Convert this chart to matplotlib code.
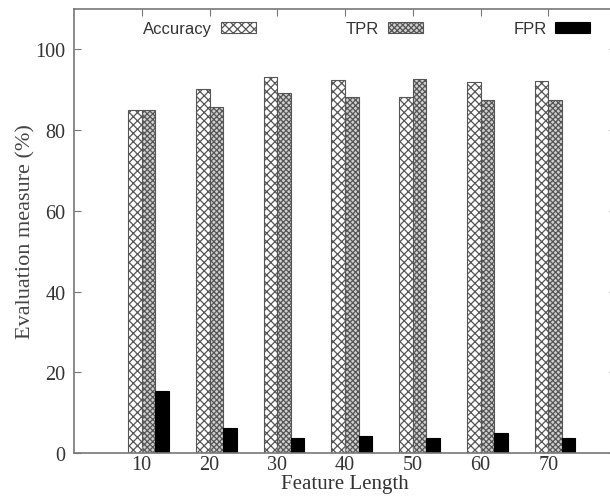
import numpy as np
import matplotlib
matplotlib.use("Agg")
import matplotlib.pyplot as plt

# values
feature_length = [10, 20, 30, 40, 50, 60, 70]
accuracy = [85.1, 90.1, 93.2, 92.5, 88.2, 91.8, 92.2]
tpr = [85.1, 85.6, 89.1, 88.2, 92.6, 87.5, 87.5]
fpr = [15.4, 6.2, 3.7, 4.1, 3.7, 4.9, 3.7]

plt.rcParams['hatch.linewidth'] = 0.9

fig = plt.figure(figsize=(6.1, 5.02), dpi=100)
ax = fig.add_axes([74 / 610, 48 / 502, 542 / 610, 444 / 502])

x = np.array(feature_length, dtype=float)
w = 2.0
ax.bar(x - w / 2, accuracy, w, color='white', edgecolor='#555555', hatch='xxxx',
       linewidth=0.8, label='Accuracy')
ax.bar(x + w / 2, tpr, w, color='#d0d0d0', edgecolor='#555555', hatch='xxxxxx',
       linewidth=0.8, label='TPR')
ax.bar(x + 3 * w / 2, fpr, w, color='black', edgecolor='black', linewidth=0.8,
       label='FPR')

ax.set_xlim(0, 80)
ax.set_ylim(0, 110)
ax.set_xticks(feature_length)
ax.set_yticks([0, 20, 40, 60, 80, 100])
ax.tick_params(direction='in', top=True, right=True, length=5, width=0.8,
               colors='#777777', labelcolor='#333333', labelsize=14.5)
ax.tick_params(axis='x', pad=1.5)
ax.tick_params(axis='y', pad=6)
for lab in ax.get_xticklabels() + ax.get_yticklabels():
    lab.set_family('Liberation Serif')
for sp in ax.spines.values():
    sp.set_color('#777777')
    sp.set_linewidth(1.2)

ax.set_xlabel('Feature Length', family='Liberation Serif', fontsize=15,
              color='#333333', labelpad=0)
ax.set_ylabel('Evaluation measure (%)', family='Liberation Serif', fontsize=16,
              color='#444444', labelpad=0)

ax.legend(loc='center left', bbox_to_anchor=(0.0996, 0.955), ncol=3, frameon=False,
          markerfirst=False, prop={'family': 'Liberation Sans', 'size': 12},
          handlelength=2.1, handleheight=0.7, handletextpad=0.54,
          columnspacing=5.4, labelcolor='#333333')

fig.savefig('out.png', dpi=100)
